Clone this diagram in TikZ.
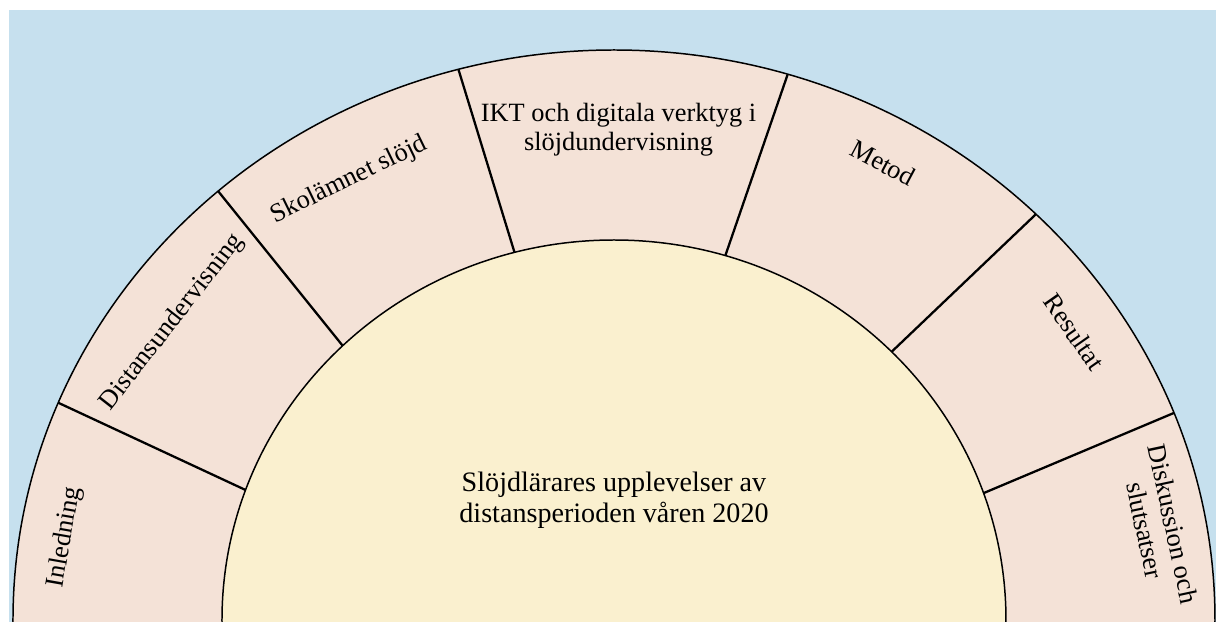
\documentclass[tikz,border=0pt]{standalone}
\usepackage{fontspec}
\setmainfont{Liberation Serif}
\usepackage{tikz}
\definecolor{skyBack}{HTML}{C6E0EE}
\definecolor{segFill}{HTML}{F4E2D7}
\definecolor{coreFill}{HTML}{FAF0CF}

\begin{document}
\begin{tikzpicture}[
    segLabel/.style={font=\fontsize{15}{16.5}\selectfont, align=center, inner sep=0pt},
    divider/.style={line width=1.3pt},
    rim/.style={line width=0.85pt}
  ]
    \useasboundingbox (-12.28, -0.04) rectangle (12.04, 12.40);
    \fill[skyBack] (-12.10, -0.04) rectangle (12.04, 12.20);

    % outer ring and inner core
    \draw[rim, fill=segFill] (0, 0) ellipse [x radius=12.02, y radius=11.40];
    \draw[rim, fill=coreFill] (0, 0) ellipse [x radius=7.84, y radius=7.60];

    \foreach \o/\i [count=\k] in {157.6/160, 131.2/133.8, 105/104.7, 73.2/73.5, 45.4/44.9, 21.3/19.5} {
        \coordinate (out\k) at (\o:12.02 and 11.40);
        \coordinate (in\k) at (\i:7.84 and 7.60);
        \draw[divider] (out\k) -- (in\k);
    }

    \node[segLabel, rotate=80] (inledning) at (171:11.12 and 10.55) {Inledning};
    \node[segLabel, rotate=52] (distans) at (144.6:10.84 and 10.28) {Distansundervisning};
    \node[segLabel, rotate=26] (skolamnet) at (119.7:10.69 and 10.13) {Skolämnet slöjd};
    \node[segLabel] (ikt) at (89.5:10.34 and 9.80) {IKT och digitala verktyg i\\slöjdundervisning};
    \node[segLabel, rotate=-28] (metod) at (60.8:11.03 and 10.47) {Metod};
    \node[segLabel, rotate=-55] (resultat) at (33.4:11.03 and 10.47) {Resultat};
    \node[segLabel, rotate=-78] (diskussion) at (10.2:11.08 and 10.49) {Diskussion och\\slutsatser};

    \node[font=\fontsize{16}{17.5}\selectfont, align=center] (core) at (0, 2.4)
        {Slöjdlärares upplevelser av\\distansperioden våren 2020};
\end{tikzpicture}
\end{document}
